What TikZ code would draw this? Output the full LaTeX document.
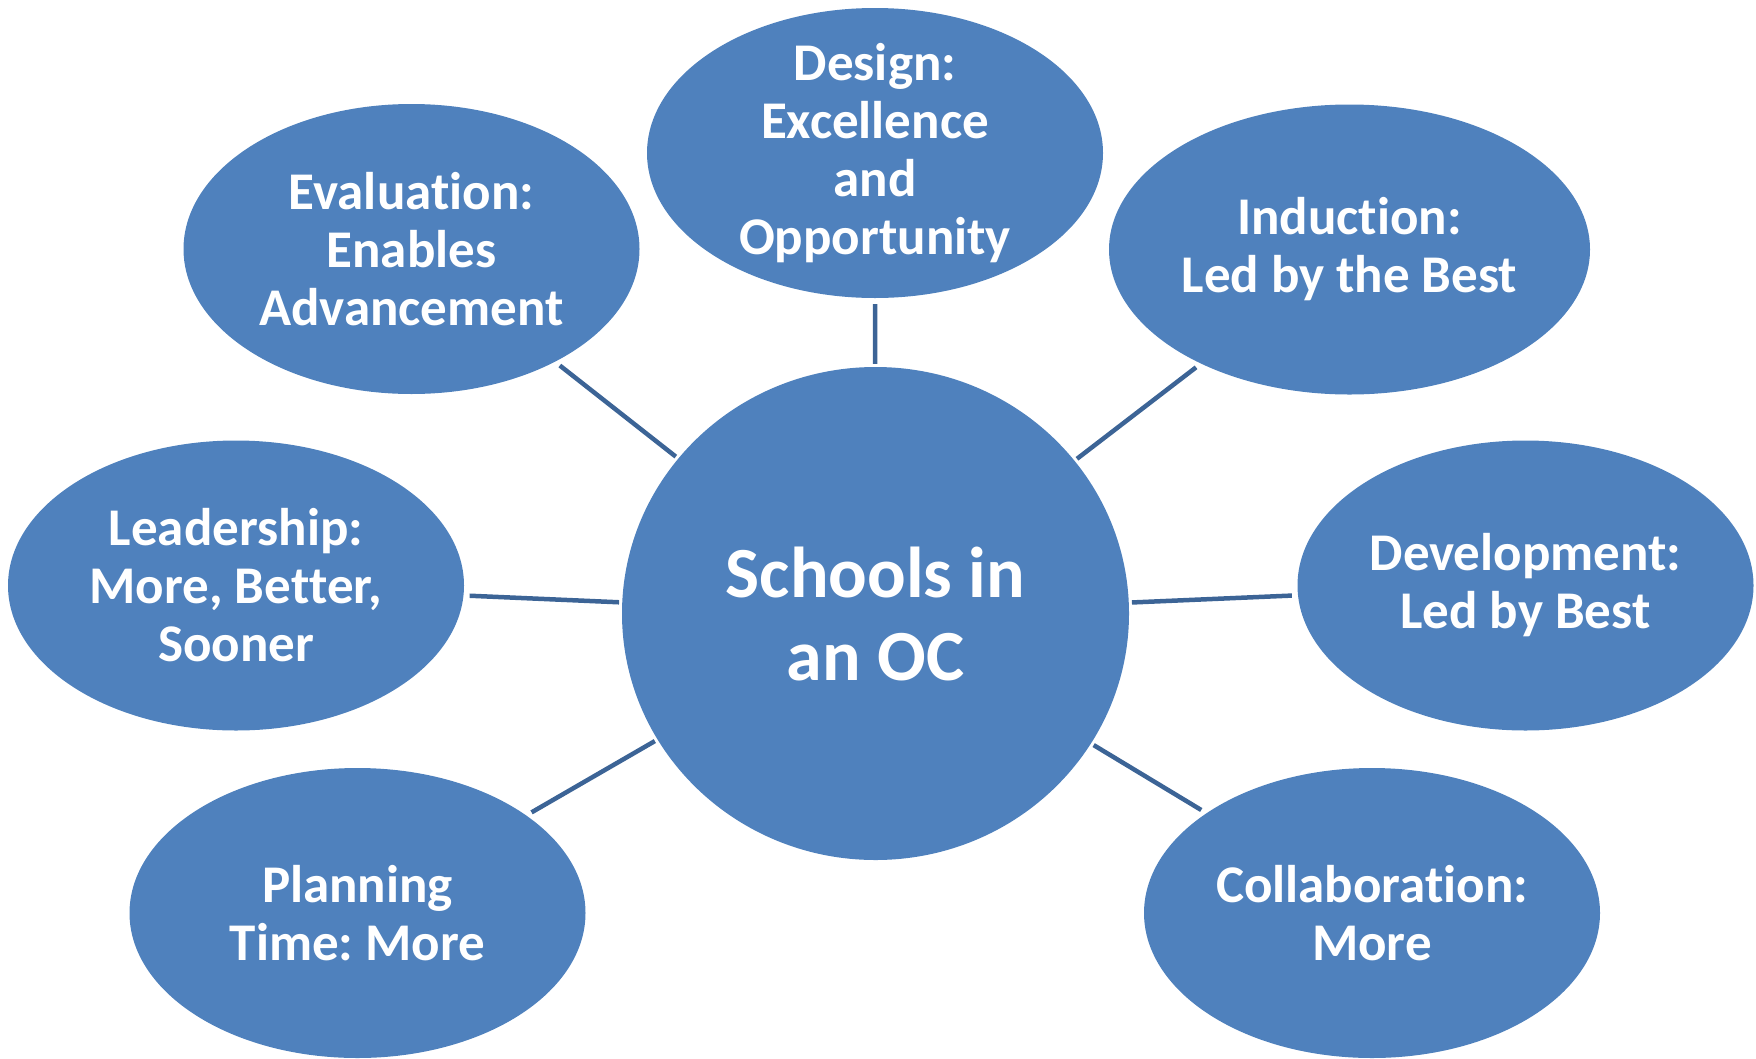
\documentclass[tikz,border=0pt]{standalone}
\usepackage{fontspec}
\setmainfont{Carlito}[RawFeature={-liga;-clig;-calt;-dlig}]
\usetikzlibrary{shapes.geometric}
\definecolor{bubble}{RGB}{79,129,189}
\definecolor{linkc}{RGB}{60,100,150}
\frenchspacing
\newcommand{\nolig}{\kern0pt\relax}
\begin{document}
\begin{tikzpicture}[x=1pt,y=-1pt,
  bub/.style={ellipse, fill=bubble, inner sep=-30pt, minimum width=456pt, minimum height=290pt, text=white, align=center, font=\bfseries\fontsize{53}{58}\selectfont},
  hub/.style={ellipse, fill=bubble, inner sep=0pt, minimum width=507pt, minimum height=493pt, text=white, align=center, font=\bfseries\fontsize{72}{83}\selectfont},
  link/.style={draw=linkc, line width=4.5pt, shorten <=6pt, shorten >=3pt}]
\useasboundingbox (0,0) rectangle (1756,1058);
\node[hub] (hub) at (875.5,613.5) {Schools in\\an OC};
\node[bub] (design) at (875,153) {Design:\\Excellence\\and\\Opportunity};
\node[bub] (eval) at (411.5,249) {Evaluat\nolig ion:\\Enables\\Advancement};
\node[bub, minimum width=481pt] (induc) at (1349.5,249.5) {Induct\nolig ion:\\Led by the Best};
\node[bub] (lead) at (236,585.5) {Leadership:\\More, Bet\nolig ter,\\Sooner};
\node[bub] (dev) at (1525.5,585.5) {Development:\\Led by Best};
\node[bub] (plan) at (357.5,913) {Planning\\Time: More};
\node[bub] (coll) at (1372,913) {Collaborat\nolig ion:\\More};
\draw[link] (design) -- (hub);
\draw[link] (eval) -- (hub);
\draw[link] (induc) -- (hub);
\draw[link] (lead) -- (hub);
\draw[link] (dev) -- (hub);
\draw[link] (plan) -- (hub);
\draw[link] (coll) -- (hub);
\end{tikzpicture}
\end{document}
